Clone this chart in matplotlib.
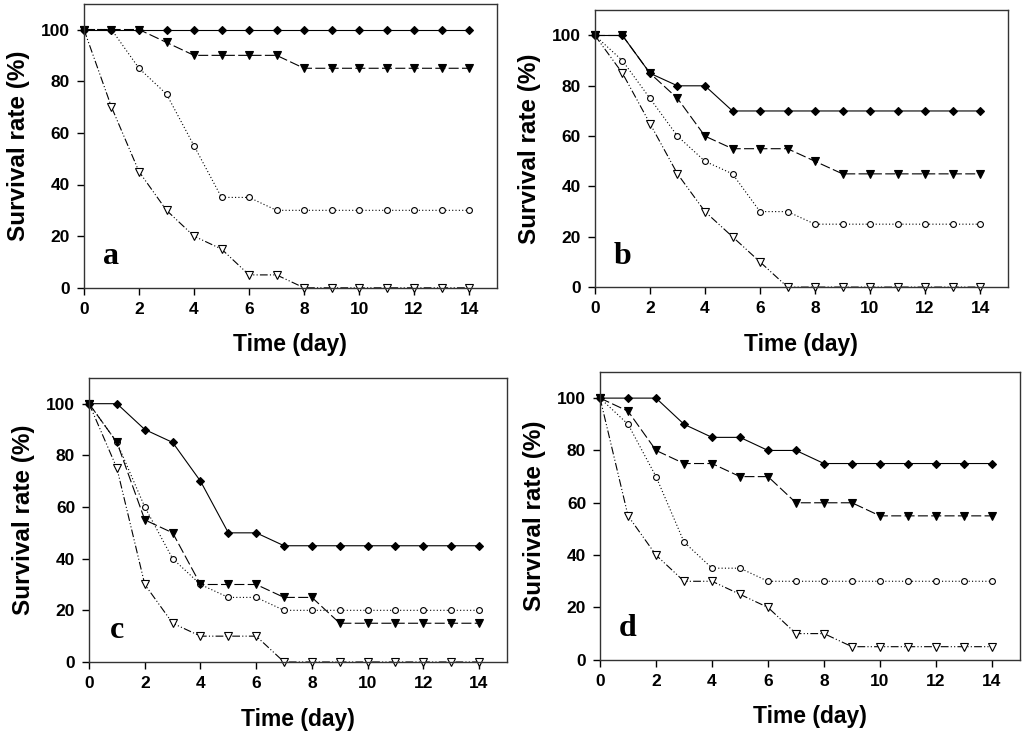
import matplotlib
matplotlib.use("Agg")
import matplotlib.pyplot as plt
import numpy as np

days = list(range(15))

# panel a
a_diamond = [100] * 15
a_tri_fill = [100, 100, 100, 95, 90, 90, 90, 90, 85, 85, 85, 85, 85, 85, 85]
a_circle = [100, 100, 85, 75, 55, 35, 35, 30, 30, 30, 30, 30, 30, 30, 30]
a_tri_open = [100, 70, 45, 30, 20, 15, 5, 5, 0, 0, 0, 0, 0, 0, 0]

# panel b
b_diamond = [100, 100, 85, 80, 80, 70, 70, 70, 70, 70, 70, 70, 70, 70, 70]
b_tri_fill = [100, 100, 85, 75, 60, 55, 55, 55, 50, 45, 45, 45, 45, 45, 45]
b_circle = [100, 90, 75, 60, 50, 45, 30, 30, 25, 25, 25, 25, 25, 25, 25]
b_tri_open = [100, 85, 65, 45, 30, 20, 10, 0, 0, 0, 0, 0, 0, 0, 0]

# panel c
c_diamond = [100, 100, 90, 85, 70, 50, 50, 45, 45, 45, 45, 45, 45, 45, 45]
c_tri_fill = [100, 85, 55, 50, 30, 30, 30, 25, 25, 15, 15, 15, 15, 15, 15]
c_circle = [100, 85, 60, 40, 30, 25, 25, 20, 20, 20, 20, 20, 20, 20, 20]
c_tri_open = [100, 75, 30, 15, 10, 10, 10, 0, 0, 0, 0, 0, 0, 0, 0]

# panel d
d_diamond = [100, 100, 100, 90, 85, 85, 80, 80, 75, 75, 75, 75, 75, 75, 75]
d_tri_fill = [100, 95, 80, 75, 75, 70, 70, 60, 60, 60, 55, 55, 55, 55, 55]
d_circle = [100, 90, 70, 45, 35, 35, 30, 30, 30, 30, 30, 30, 30, 30, 30]
d_tri_open = [100, 55, 40, 30, 30, 25, 20, 10, 10, 5, 5, 5, 5, 5, 5]

panels = [
    ("a", [a_diamond, a_tri_fill, a_circle, a_tri_open], [0.082, 0.610, 0.403, 0.385]),
    ("b", [b_diamond, b_tri_fill, b_circle, b_tri_open], [0.581, 0.611, 0.403, 0.375]),
    ("c", [c_diamond, c_tri_fill, c_circle, c_tri_open], [0.087, 0.103, 0.408, 0.385]),
    ("d", [d_diamond, d_tri_fill, d_circle, d_tri_open], [0.586, 0.106, 0.410, 0.390]),
]

styles = [
    dict(marker="D", ms=4.3, mfc="black", mec="black", ls="-"),
    dict(marker="v", ms=5.8, mfc="black", mec="black", ls=(0, (9, 3))),
    dict(marker="o", ms=4.2, mfc="white", mec="black", ls=(0, (1, 2))),
    dict(marker="v", ms=5.5, mfc="white", mec="black", ls=(0, (7, 2, 1, 2, 1, 2))),
]

plt.rcParams['font.family'] = ['Liberation Sans', 'DejaVu Sans']

fig = plt.figure(figsize=(10.24, 7.38), dpi=100)

for letter, series, rect in panels:
    ax = fig.add_axes(rect)
    # draw from bottom series up so filled markers sit on top
    for vals, st in reversed(list(zip(series, styles))):
        ax.plot(days, vals, color="black", lw=0.8, mew=0.8, clip_on=False, **st)
    ax.set_xlim(0, 15)
    ax.set_ylim(0, 110)
    ax.set_xticks(range(0, 15, 2))
    ax.set_yticks(range(0, 101, 20))
    ax.tick_params(direction="out", length=5, width=1, labelsize=12.5, pad=5,
                   top=False, right=False)
    for lab in ax.get_xticklabels() + ax.get_yticklabels():
        lab.set_fontweight("bold")
    for sp in ax.spines.values():
        sp.set_linewidth(1.0)
        sp.set_color("#333333")
    ax.set_xlabel("Time (day)", fontsize=16.5, fontweight="bold", labelpad=12)
    ax.set_ylabel("Survival rate (%)", fontsize=17.5, fontweight="bold", labelpad=8)
    ax.text(1.0, 12, letter, fontsize=23, fontweight="bold",
            family=["Liberation Serif", "DejaVu Serif"], ha="center", va="center")

fig.savefig("out.png", dpi=100)
